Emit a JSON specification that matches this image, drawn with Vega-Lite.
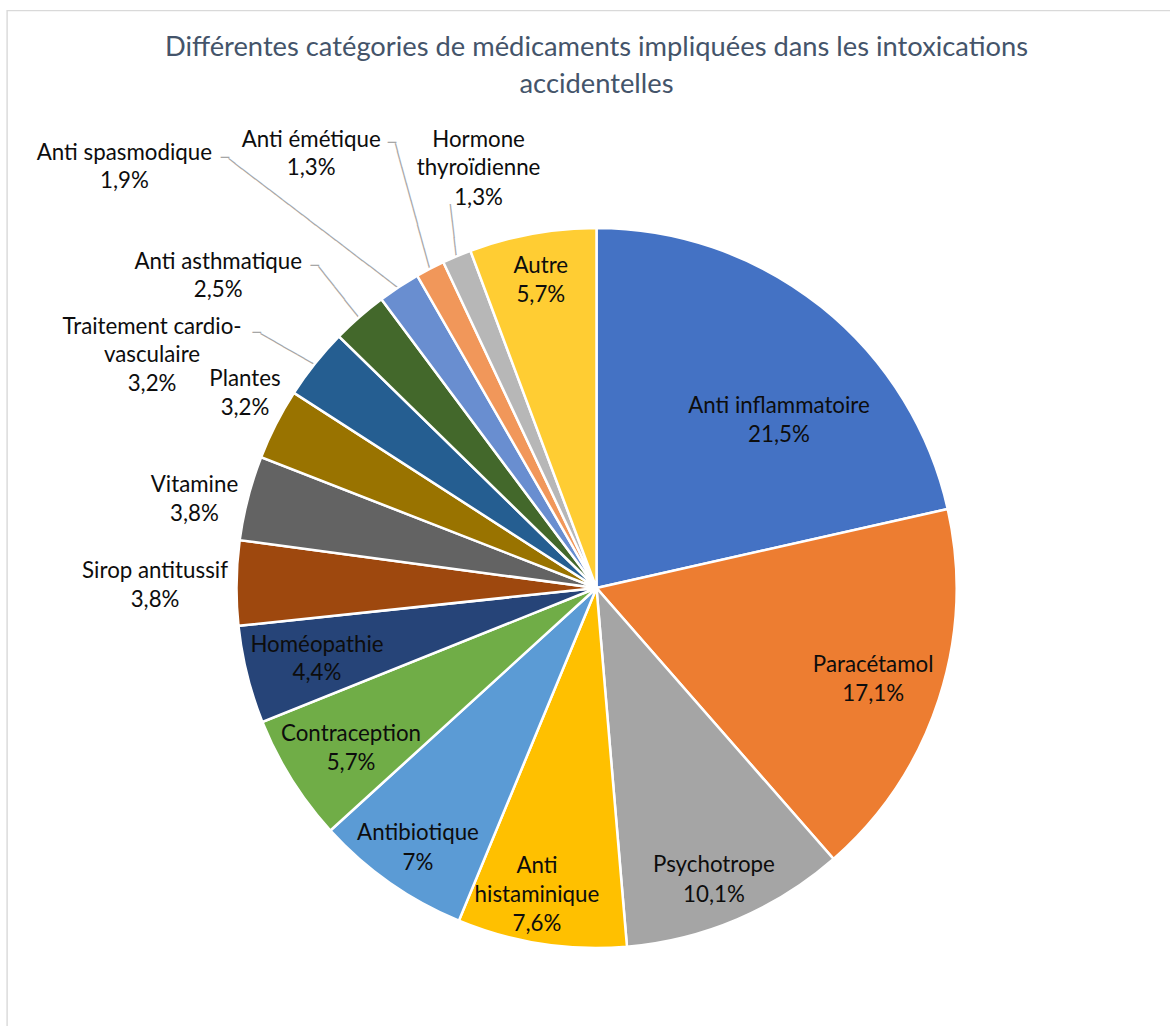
{
  "$schema": "https://vega.github.io/schema/vega-lite/v6.json",
  "width": 1179,
  "height": 1155,
  "padding": {"left": 7, "top": 10.5, "right": -16, "bottom": -140},
  "view": {"stroke": "#D9D9D9", "strokeWidth": 1.4},
  "title": {
    "text": ["Différentes catégories de médicaments impliquées dans les intoxications", "accidentelles"],
    "font": "Lato", "fontSize": 27.3, "fontWeight": "normal", "color": "#44546A",
    "lineHeight": 37, "offset": -88, "anchor": "middle"
  },
  "config": {
    "view": {"stroke": "#D9D9D9", "strokeWidth": 1.4},
    "locale": {"number": {"decimal": ",", "thousands": " ", "grouping": [3], "currency": ["", " €"], "percent": "%"}},
    "text": {"font": "Lato", "fontSize": 22.3, "fill": "#0D0D0D", "align": "center", "baseline": "middle", "lineHeight": 28.5, "lineBreak": "\n"}
  },
  "data": {
    "values": [
      {"category": "Anti inflammatoire", "share": 0.215},
      {"category": "Paracétamol", "share": 0.171},
      {"category": "Psychotrope", "share": 0.101},
      {"category": "Anti\nhistaminique", "share": 0.076},
      {"category": "Antibiotique", "share": 0.07},
      {"category": "Contraception", "share": 0.057},
      {"category": "Homéopathie", "share": 0.044},
      {"category": "Sirop antitussif", "share": 0.038},
      {"category": "Vitamine", "share": 0.038},
      {"category": "Plantes", "share": 0.032},
      {"category": "Traitement cardio-\nvasculaire", "share": 0.032},
      {"category": "Anti asthmatique", "share": 0.025},
      {"category": "Anti spasmodique", "share": 0.019},
      {"category": "Anti émétique", "share": 0.013},
      {"category": "Hormone\nthyroïdienne", "share": 0.013},
      {"category": "Autre", "share": 0.057}
    ]
  },
  "transform": [
    {"stack": "share", "groupby": [], "as": ["start", "end"]},
    {"fold": ["start", "end"], "as": ["edge", "pos"]},
    {"joinaggregate": [{"op": "mean", "field": "pos", "as": "mid"}], "groupby": ["category"]},
    {"filter": {"field": "edge", "equal": "start"}}
  ],
  "layer": [
    {
      "transform": [{"filter": {"field": "category", "equal": "Anti spasmodique"}}],
      "mark": {"type": "text", "text": "───────────────────────────────", "font": "DejaVu Sans", "fontSize": 14, "fill": "#A6A6A6", "align": "right", "baseline": "middle", "angle": 217.3, "dx": 214.4},
      "encoding": {"theta": {"field": "mid", "type": "quantitative", "stack": null}, "radius": {"value": 359}}
    },
    {
      "transform": [{"filter": {"field": "category", "equal": "Anti émétique"}}],
      "mark": {"type": "text", "text": "─────────────────────", "font": "DejaVu Sans", "fontSize": 14, "fill": "#A6A6A6", "align": "right", "baseline": "middle", "angle": 254.7, "dx": 131.2},
      "encoding": {"theta": {"field": "mid", "type": "quantitative", "stack": null}, "radius": {"value": 359}}
    },
    {
      "transform": [{"filter": {"field": "category", "equal": "Hormone\nthyroïdienne"}}],
      "mark": {"type": "text", "text": "────────────", "font": "DejaVu Sans", "fontSize": 14, "fill": "#A6A6A6", "align": "right", "baseline": "middle", "angle": 263.4, "dx": 53.4},
      "encoding": {"theta": {"field": "mid", "type": "quantitative", "stack": null}, "radius": {"value": 359}}
    },
    {
      "transform": [{"filter": {"field": "category", "equal": "Anti asthmatique"}}],
      "mark": {"type": "text", "text": "─────────────", "font": "DejaVu Sans", "fontSize": 14, "fill": "#A6A6A6", "align": "right", "baseline": "middle", "angle": 231.6, "dx": 66.1},
      "encoding": {"theta": {"field": "mid", "type": "quantitative", "stack": null}, "radius": {"value": 359}}
    },
    {
      "transform": [{"filter": {"field": "category", "equal": "Traitement cardio-\nvasculaire"}}],
      "mark": {"type": "text", "text": "─────────────", "font": "DejaVu Sans", "fontSize": 14, "fill": "#A6A6A6", "align": "right", "baseline": "middle", "angle": 209.7, "dx": 63.1},
      "encoding": {"theta": {"field": "mid", "type": "quantitative", "stack": null}, "radius": {"value": 359}}
    },
    {
      "mark": {"type": "arc", "radius": 360, "stroke": "#FFFFFF", "strokeWidth": 2.5},
      "encoding": {
        "theta": {"field": "end", "type": "quantitative", "stack": null},
        "theta2": {"field": "start"},
        "color": {
          "field": "category", "type": "nominal", "legend": null,
          "scale": {
            "domain": ["Anti inflammatoire", "Paracétamol", "Psychotrope", "Anti\nhistaminique", "Antibiotique", "Contraception", "Homéopathie", "Sirop antitussif", "Vitamine", "Plantes", "Traitement cardio-\nvasculaire", "Anti asthmatique", "Anti spasmodique", "Anti émétique", "Hormone\nthyroïdienne", "Autre"],
            "range": ["#4472C4", "#ED7D31", "#A5A5A5", "#FFC000", "#5B9BD5", "#70AD47", "#264478", "#9E480E", "#636363", "#997300", "#255E91", "#43682B", "#698ED0", "#F1975A", "#B7B7B7", "#FFCD33"]
          }
        }
      }
    },
    {
      "transform": [{"filter": {"field": "category", "oneOf": ["Anti spasmodique", "Anti émétique", "Anti asthmatique", "Traitement cardio-\nvasculaire"]}}],
      "encoding": {"theta": {"field": "mid", "type": "quantitative", "stack": null}, "radius": {"value": 359}},
      "layer": [
        {"transform": [{"filter": {"field": "category", "equal": "Anti spasmodique"}}], "mark": {"type": "text", "text": "─", "font": "DejaVu Sans", "fontSize": 14, "fill": "#A6A6A6", "align": "right", "baseline": "middle", "dx": -170.5, "dy": -129.9}},
        {"transform": [{"filter": {"field": "category", "equal": "Anti émétique"}}], "mark": {"type": "text", "text": "─", "font": "DejaVu Sans", "fontSize": 14, "fill": "#A6A6A6", "align": "right", "baseline": "middle", "dx": -34.6, "dy": -126.6}},
        {"transform": [{"filter": {"field": "category", "equal": "Anti asthmatique"}}], "mark": {"type": "text", "text": "─", "font": "DejaVu Sans", "fontSize": 14, "fill": "#A6A6A6", "align": "right", "baseline": "middle", "dx": -41.1, "dy": -51.8}},
        {"transform": [{"filter": {"field": "category", "equal": "Traitement cardio-\nvasculaire"}}], "mark": {"type": "text", "text": "─", "font": "DejaVu Sans", "fontSize": 14, "fill": "#A6A6A6", "align": "right", "baseline": "middle", "dx": -54.8, "dy": -31.2}}
      ]
    },
    {
      "transform": [{"filter": {"field": "category", "equal": "Anti inflammatoire"}}],
      "encoding": {"theta": {"field": "mid", "type": "quantitative", "stack": null}, "radius": {"value": 246}},
      "layer": [
        {"mark": {"type": "text", "dx": 28.8, "dy": 10.4}, "encoding": {"text": {"field": "category"}}},
        {"mark": {"type": "text", "dx": 28.8, "dy": 38.9}, "encoding": {"text": {"field": "share", "type": "quantitative", "format": ".1~%"}}}
      ]
    },
    {
      "transform": [{"filter": {"field": "category", "equal": "Paracétamol"}}],
      "encoding": {"theta": {"field": "mid", "type": "quantitative", "stack": null}, "radius": {"value": 291}},
      "layer": [
        {"mark": {"type": "text", "dx": 0, "dy": -13.0}, "encoding": {"text": {"field": "category"}}},
        {"mark": {"type": "text", "dx": 0, "dy": 15.5}, "encoding": {"text": {"field": "share", "type": "quantitative", "format": ".1~%"}}}
      ]
    },
    {
      "transform": [{"filter": {"field": "category", "equal": "Psychotrope"}}],
      "encoding": {"theta": {"field": "mid", "type": "quantitative", "stack": null}, "radius": {"value": 314}},
      "layer": [
        {"mark": {"type": "text", "dx": -5.3, "dy": -11.7}, "encoding": {"text": {"field": "category"}}},
        {"mark": {"type": "text", "dx": -5.3, "dy": 18.3}, "encoding": {"text": {"field": "share", "type": "quantitative", "format": ".1~%"}}}
      ]
    },
    {
      "transform": [{"filter": {"field": "category", "equal": "Anti\nhistaminique"}}],
      "encoding": {"theta": {"field": "mid", "type": "quantitative", "stack": null}, "radius": {"value": 311}},
      "layer": [
        {"mark": {"type": "text", "dx": -11.9, "dy": -29.0}, "encoding": {"text": {"field": "category"}}},
        {"mark": {"type": "text", "dx": -11.9, "dy": 28.5}, "encoding": {"text": {"field": "share", "type": "quantitative", "format": ".1~%"}}}
      ]
    },
    {
      "transform": [{"filter": {"field": "category", "equal": "Antibiotique"}}],
      "encoding": {"theta": {"field": "mid", "type": "quantitative", "stack": null}, "radius": {"value": 314}},
      "layer": [
        {"mark": {"type": "text", "dx": 1.9, "dy": -11.7}, "encoding": {"text": {"field": "category"}}},
        {"mark": {"type": "text", "dx": 1.9, "dy": 17.8}, "encoding": {"text": {"field": "share", "type": "quantitative", "format": ".1~%"}}}
      ]
    },
    {
      "transform": [{"filter": {"field": "category", "equal": "Contraception"}}],
      "encoding": {"theta": {"field": "mid", "type": "quantitative", "stack": null}, "radius": {"value": 292}},
      "layer": [
        {"mark": {"type": "text", "dx": 1.9, "dy": -9.4}, "encoding": {"text": {"field": "category"}}},
        {"mark": {"type": "text", "dx": 1.9, "dy": 19.6}, "encoding": {"text": {"field": "share", "type": "quantitative", "format": ".1~%"}}}
      ]
    },
    {
      "transform": [{"filter": {"field": "category", "equal": "Homéopathie"}}],
      "encoding": {"theta": {"field": "mid", "type": "quantitative", "stack": null}, "radius": {"value": 288}},
      "layer": [
        {"mark": {"type": "text", "dx": 0, "dy": -12.6}, "encoding": {"text": {"field": "category"}}},
        {"mark": {"type": "text", "dx": 0, "dy": 15.4}, "encoding": {"text": {"field": "share", "type": "quantitative", "format": ".1~%"}}}
      ]
    },
    {
      "transform": [{"filter": {"field": "category", "equal": "Sirop antitussif"}}],
      "encoding": {"theta": {"field": "mid", "type": "quantitative", "stack": null}, "radius": {"value": 441}},
      "layer": [
        {"mark": {"type": "text", "dx": -0.5, "dy": -11.0}, "encoding": {"text": {"field": "category"}}},
        {"mark": {"type": "text", "dx": -0.5, "dy": 18.0}, "encoding": {"text": {"field": "share", "type": "quantitative", "format": ".1~%"}}}
      ]
    },
    {
      "transform": [{"filter": {"field": "category", "equal": "Vitamine"}}],
      "encoding": {"theta": {"field": "mid", "type": "quantitative", "stack": null}, "radius": {"value": 412}},
      "layer": [
        {"mark": {"type": "text", "dx": -3.1, "dy": -0.2}, "encoding": {"text": {"field": "category"}}},
        {"mark": {"type": "text", "dx": -3.1, "dy": 29.3}, "encoding": {"text": {"field": "share", "type": "quantitative", "format": ".1~%"}}}
      ]
    },
    {
      "transform": [{"filter": {"field": "category", "equal": "Plantes"}}],
      "encoding": {"theta": {"field": "mid", "type": "quantitative", "stack": null}, "radius": {"value": 402}},
      "layer": [
        {"mark": {"type": "text", "dx": 6.5, "dy": -25.8}, "encoding": {"text": {"field": "category"}}},
        {"mark": {"type": "text", "dx": 6.5, "dy": 2.7}, "encoding": {"text": {"field": "share", "type": "quantitative", "format": ".1~%"}}}
      ]
    },
    {
      "transform": [{"filter": {"field": "category", "equal": "Traitement cardio-\nvasculaire"}}],
      "encoding": {"theta": {"field": "mid", "type": "quantitative", "stack": null}, "radius": {"value": 359}},
      "layer": [
        {"mark": {"type": "text", "dx": -163.8, "dy": -37.4}, "encoding": {"text": {"field": "category"}}},
        {"mark": {"type": "text", "dx": -163.8, "dy": 19.6}, "encoding": {"text": {"field": "share", "type": "quantitative", "format": ".1~%"}}}
      ]
    },
    {
      "transform": [{"filter": {"field": "category", "equal": "Anti asthmatique"}}],
      "encoding": {"theta": {"field": "mid", "type": "quantitative", "stack": null}, "radius": {"value": 359}},
      "layer": [
        {"mark": {"type": "text", "dx": -141.9, "dy": -56.0}, "encoding": {"text": {"field": "category"}}},
        {"mark": {"type": "text", "dx": -141.9, "dy": -28.0}, "encoding": {"text": {"field": "share", "type": "quantitative", "format": ".1~%"}}}
      ]
    },
    {
      "transform": [{"filter": {"field": "category", "equal": "Anti spasmodique"}}],
      "encoding": {"theta": {"field": "mid", "type": "quantitative", "stack": null}, "radius": {"value": 359}},
      "layer": [
        {"mark": {"type": "text", "dx": -275.2, "dy": -135.1}, "encoding": {"text": {"field": "category"}}},
        {"mark": {"type": "text", "dx": -275.2, "dy": -107.1}, "encoding": {"text": {"field": "share", "type": "quantitative", "format": ".1~%"}}}
      ]
    },
    {
      "transform": [{"filter": {"field": "category", "equal": "Anti émétique"}}],
      "encoding": {"theta": {"field": "mid", "type": "quantitative", "stack": null}, "radius": {"value": 359}},
      "layer": [
        {"mark": {"type": "text", "dx": -119.4, "dy": -129.8}, "encoding": {"text": {"field": "category"}}},
        {"mark": {"type": "text", "dx": -119.4, "dy": -101.8}, "encoding": {"text": {"field": "share", "type": "quantitative", "format": ".1~%"}}}
      ]
    },
    {
      "transform": [{"filter": {"field": "category", "equal": "Hormone\nthyroïdienne"}}],
      "encoding": {"theta": {"field": "mid", "type": "quantitative", "stack": null}, "radius": {"value": 359}},
      "layer": [
        {"mark": {"type": "text", "dx": 21.4, "dy": -117.3}, "encoding": {"text": {"field": "category"}}},
        {"mark": {"type": "text", "dx": 21.4, "dy": -59.3}, "encoding": {"text": {"field": "share", "type": "quantitative", "format": ".1~%"}}}
      ]
    },
    {
      "transform": [{"filter": {"field": "category", "equal": "Autre"}}],
      "encoding": {"theta": {"field": "mid", "type": "quantitative", "stack": null}, "radius": {"value": 313}},
      "layer": [
        {"mark": {"type": "text", "dx": 0, "dy": -13.7}, "encoding": {"text": {"field": "category"}}},
        {"mark": {"type": "text", "dx": 0, "dy": 15.3}, "encoding": {"text": {"field": "share", "type": "quantitative", "format": ".1~%"}}}
      ]
    }
  ]
}
